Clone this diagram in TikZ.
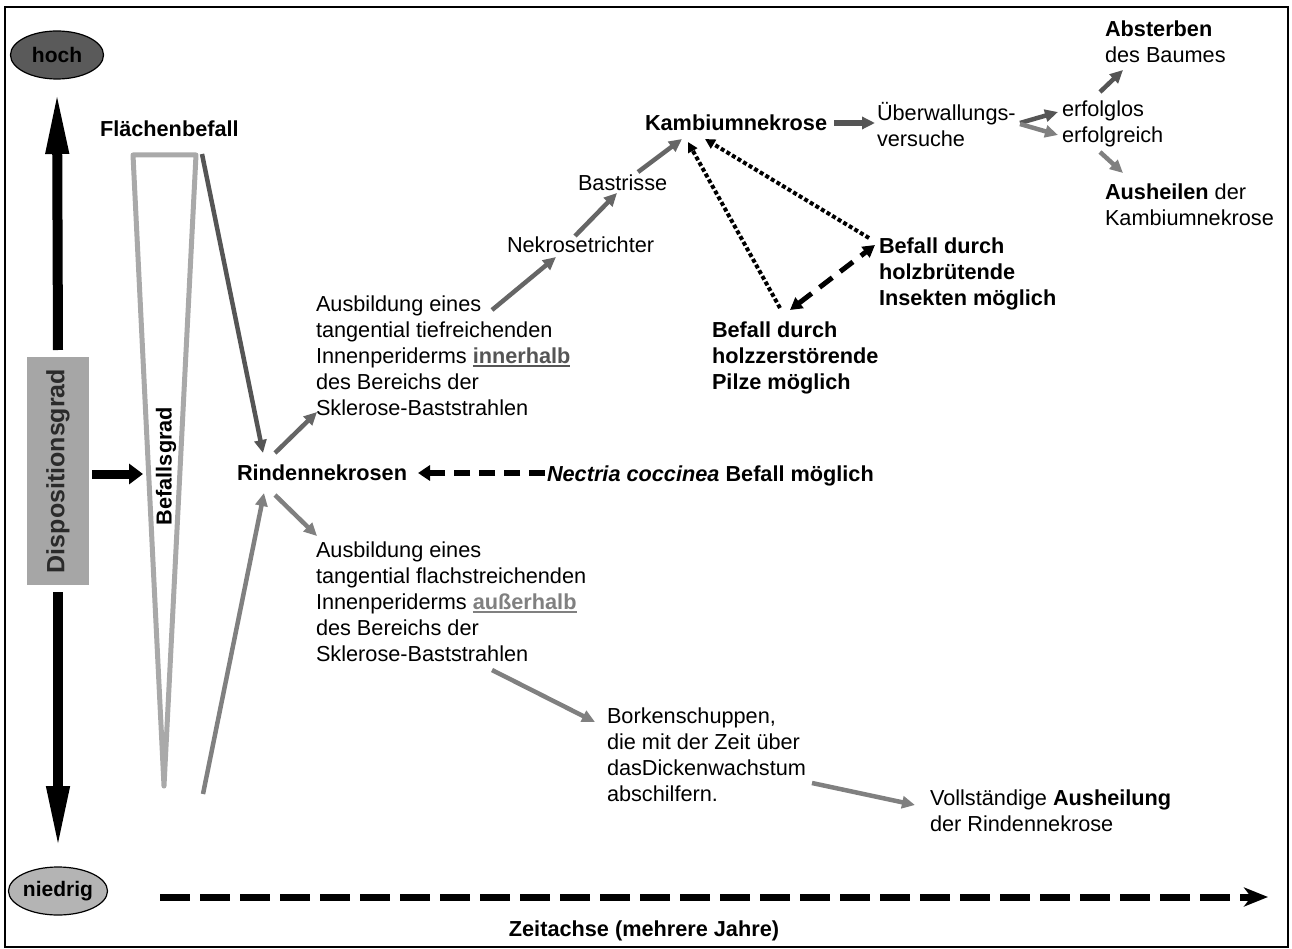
\documentclass[tikz,border=0pt]{standalone}
\usepackage{fontspec}
\setmainfont{Liberation Sans}
\usetikzlibrary{arrows.meta,shapes.geometric}
\definecolor{gA}{HTML}{555555}
\definecolor{gB}{HTML}{666666}
\definecolor{gC}{HTML}{808080}
\definecolor{triG}{HTML}{A9A9A9}
\definecolor{boxG}{HTML}{A6A6A6}
\definecolor{hochG}{HTML}{5A5A5A}
\definecolor{niedG}{HTML}{B4B4B4}
\definecolor{dispT}{HTML}{2A2A2A}
\newcommand\myul[1]{\setbox0\hbox{#1}\rlap{\rule[-3.5pt]{\wd0}{2pt}}\box0}
\begin{document}
\begin{tikzpicture}[x=1pt,y=-1pt,
  txt/.style={font=\fontsize{21.7}{26}\selectfont, inner sep=0pt, outer sep=0pt, anchor=base west, align=left},
  btxt/.style={txt, font=\fontsize{21.7}{26}\selectfont\bfseries},
  garrow/.style={line width=4.5pt, -{Triangle[length=13pt,width=12pt]}},
  bigarr/.style={line width=10pt, black, -{Triangle[length=64pt,width=21pt]}},
  dotarr/.style={line width=4pt, black, dash pattern=on 4pt off 2.5pt, -{Triangle[length=10pt,width=10pt]}},
  dasharr/.style={line width=5pt, black, dash pattern=on 16pt off 10pt, {Triangle[length=12pt,width=13pt]}-{Triangle[length=12pt,width=13pt]}},
  necarr/.style={line width=6pt, black, dash pattern=on 16pt off 9pt, -{Triangle[length=12pt,width=15pt]}},
  zeitarr/.style={line width=7pt, black, dash pattern=on 30pt off 10pt, -{Stealth[length=24pt,width=19pt,inset=7pt]}},
  oval/.style={ellipse, draw, line width=1.2pt, minimum width=93pt, minimum height=48pt, inner sep=0pt, outer sep=0pt, font=\fontsize{21}{26}\selectfont\bfseries}
]
\useasboundingbox (0,0) rectangle (1292,949);
\draw[line width=2pt] (5,7.5) rectangle (1288,947);

% scale of disposition
\node[oval, fill=hochG] (hoch) at (57,55) {hoch};
\node[oval, fill=niedG] (nied) at (58,891) {niedrig};
\node[rotate=90, fill=boxG, minimum width=228pt, minimum height=62pt, inner sep=0pt, outer sep=0pt,
      font=\fontsize{25}{30}\selectfont\bfseries, text=dispT] (disp) at (58,471) {Dispositionsgrad};
\draw[bigarr] ([shift={(0,-7)}]disp.east) -- ([shift={(0,11)}]hoch.south);
\draw[bigarr] ([shift={(0,7)}]disp.west) -- ([shift={(0,-17)}]nied.north);

% Befallsgrad triangle
\coordinate (tl) at (133,155);
\coordinate (tr) at (196,155);
\coordinate (tb) at (164,786);
\coordinate (befin) at (143,474);
\coordinate (bl) at (203,794);
\draw[triG, line width=5pt, line join=round, line cap=round] (tl) -- (tr) -- (tb) -- cycle;
\node[btxt, anchor=center, rotate=90] (befg) at (166,466) {Befallsgrad};
\draw[line width=9pt, black, -{Triangle[length=14pt,width=20pt]}] ([shift={(3,3)}]disp.south) -- (befin);

% text nodes (multi-line nodes are placed by the baseline of their last line)
\node[btxt] (flach) at (100,137) {Flächenbefall};
\node[btxt] (rinden) at (237,480) {Rindennekrosen};
\node[txt] (upper) at (316,415) {Ausbildung eines\\tangential tiefreichenden\\Innenperiderms {\bfseries\color{gA}\myul{innerhalb}}\\des Bereichs der\\Sklerose-Baststrahlen};
\node[txt] (lower) at (316,661) {Ausbildung eines\\tangential flachstreichenden\\Innenperiderms {\bfseries\color{gC}\myul{außerhalb}}\\des Bereichs der\\Sklerose-Baststrahlen};
\node[txt] (nek) at (507,253) {Nekrosetrichter};
\node[txt] (bast) at (578,191) {Bastrisse};
\node[btxt] (kamb) at (645,131) {Kambiumnekrose};
\node[txt] (ueber) at (877,147) {Überwallungs-\\versuche};
\node[txt] (erfl) at (1062,117) {erfolglos};
\node[txt] (erfr) at (1062,143) {erfolgreich};
\node[txt] (abst) at (1105,63) {\textbf{Absterben}\\des Baumes};
\node[txt] (aush) at (1105,226) {\textbf{Ausheilen} der\\Kambiumnekrose};
\node[btxt] (insekt) at (879,306) {Befall durch\\holzbrütende\\Insekten möglich};
\node[btxt] (pilze) at (712,389) {Befall durch\\holzzerstörende\\Pilze möglich};
\node[btxt] (nect) at (547,481) {\textit{Nectria coccinea} Befall möglich};
\node[txt] (borken) at (607,801) {Borkenschuppen,\\die mit der Zeit über\\dasDickenwachstum\\abschilfern.};
\node[txt] (voll) at (930,831) {Vollständige \textbf{Ausheilung}\\der Rindennekrose};
\node[btxt, anchor=base] (zeit) at (644,936) {Zeitachse (mehrere Jahre)};

% connectors
\draw[garrow, gA] ([shift={(6,-1)}]tr) -- ([shift={(26,-27)}]rinden.base west);
\draw[garrow, gC] (bl) -- ([shift={(27,13)}]rinden.base west);
\draw[garrow, gB] ([shift={(38,-27)}]rinden.base west) -- ([shift={(1,-3)}]upper.base west);
\draw[garrow, gC] ([shift={(38,15)}]rinden.base west) -- ([shift={(1,-125)}]lower.base west);
\draw[garrow, gB] ([shift={(176,-105)}]upper.base west) -- ([shift={(49,4)}]nek.base west);
\draw[garrow, gB] ([shift={(68,-17)}]nek.base west) -- ([shift={(39,2)}]bast.base west);
\draw[garrow, gB] ([shift={(60,-19)}]bast.base west) -- ([shift={(37,8)}]kamb.base west);
\draw[garrow, gA, line width=5.5pt] ([shift={(189,-8)}]kamb.base west) -- ([shift={(-2,-24)}]ueber.base west);
\draw[garrow, gA] ([shift={(143,-24)}]ueber.base west) -- ([shift={(-4,-5)}]erfl.base west);
\draw[garrow, gC] ([shift={(143,-23)}]ueber.base west) -- ([shift={(-4,-8)}]erfr.base west);
\draw[garrow, gA] ([shift={(38,-25)}]erfl.base west) -- ([shift={(18,7)}]abst.base west);
\draw[garrow, gC] ([shift={(38,9)}]erfr.base west) -- ([shift={(18,-53)}]aush.base west);
\draw[dotarr] ([shift={(68,-81)}]pilze.base west) -- ([shift={(43,11)}]kamb.base west);
\draw[dotarr] ([shift={(-10,-68)}]insekt.base west) -- ([shift={(60,8)}]kamb.base west);
\draw[dasharr] ([shift={(78,-79)}]pilze.base west) -- ([shift={(-4,-61)}]insekt.base west);
\draw[necarr] ([shift={(-2,-8)}]nect.base west) -- ([shift={(181,-7)}]rinden.base west);
\draw[garrow, gC] ([shift={(176,9)}]lower.base west) -- ([shift={(-12,-79)}]borken.base west);
\draw[garrow, gC] ([shift={(205,-18)}]borken.base west) -- ([shift={(-15,-26)}]voll.base west);

\coordinate (z0) at (160,897);
\coordinate (z1) at (1268,897);
\draw[zeitarr] (z0) -- (z1);
\end{tikzpicture}
\end{document}
